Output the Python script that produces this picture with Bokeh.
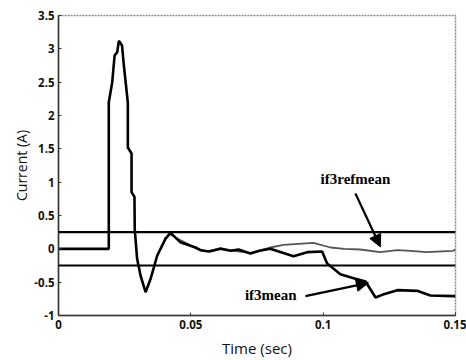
from bokeh.plotting import figure
from bokeh.models import FixedTicker, Range1d, Arrow, NormalHead, Label, Span
from bokeh.embed import file_html
from bokeh.resources import INLINE

# if3mean (thick black trace)
t_mean = [0, 0.019, 0.019, 0.0203, 0.0212, 0.0222, 0.0228, 0.024, 0.0247, 0.0262, 0.0262,
          0.0276, 0.0276, 0.0287, 0.0288, 0.0297, 0.031, 0.0329, 0.0348, 0.0373, 0.0404,
          0.0423, 0.046, 0.0518, 0.0536, 0.057, 0.0612, 0.065, 0.068, 0.0725, 0.076, 0.08,
          0.0888, 0.094, 0.0996, 0.1015, 0.1028, 0.1065, 0.1115, 0.116, 0.1179, 0.1198,
          0.1223, 0.128, 0.1355, 0.1405, 0.149, 0.15]
i_mean = [0, 0, 2.2, 2.5, 2.9, 2.95, 3.12, 3.05, 2.75, 2.19, 1.52,
          1.43, 0.85, 0.78, 0.3, -0.15, -0.4, -0.65, -0.45, -0.1, 0.15,
          0.24, 0.1, 0.02, -0.02, -0.04, 0.0, -0.03, -0.01, -0.07, -0.03, 0.0,
          -0.11, -0.05, -0.04, -0.22, -0.26, -0.38, -0.44, -0.49, -0.61, -0.73,
          -0.69, -0.62, -0.63, -0.70, -0.71, -0.71]

# if3refmean (thin grey trace)
t_ref = [0.04, 0.0423, 0.046, 0.05, 0.0518, 0.056, 0.0612, 0.066, 0.0725, 0.08, 0.085,
         0.0963, 0.1028, 0.108, 0.114, 0.1216, 0.128, 0.133, 0.139, 0.149, 0.15]
i_ref = [0.15, 0.22, 0.13, 0.05, 0.01, -0.04, 0.01, -0.03, -0.06, 0.02, 0.06,
         0.09, 0.02, 0.0, -0.01, -0.05, -0.02, -0.03, -0.05, -0.03, -0.01]

band_levels = [0.25, -0.25]

x_ticks = [0, 0.05, 0.1, 0.15]
x_labels = ["0", "0.05", "0.1", "0.15"]
y_ticks = [-1, -0.5, 0, 0.5, 1, 1.5, 2, 2.5, 3, 3.5]
y_labels = ["-1", "-0.5", "0", "0.5", "1", "1.5", "2", "2.5", "3", "3.5"]

p = figure(width=466, height=360, output_backend="svg", toolbar_location=None,
           x_range=Range1d(0, 0.15), y_range=Range1d(-1, 3.5),
           min_border_left=58, min_border_right=11, min_border_top=15, min_border_bottom=44)
p.background_fill_color = "white"
p.border_fill_color = "white"
p.outline_line_color = "#888888"
p.outline_line_dash = "2 1"
p.outline_line_width = 1.5
p.xgrid.visible = False
p.ygrid.visible = False

for lvl in band_levels:
    p.add_layout(Span(location=lvl, dimension="width", line_color="black", line_width=2.2))

p.line(t_ref, i_ref, line_color="#555555", line_width=1.8)
p.line(t_mean, i_mean, line_color="black", line_width=2.6)

# annotations
p.add_layout(Label(x=0.1122, y=0.93, text="if3refmean", text_font="Liberation Serif",
                   text_font_style="bold", text_font_size="15px", text_align="center",
                   text_baseline="bottom", text_color="black"))
p.add_layout(Arrow(end=NormalHead(size=12, fill_color="black", line_color="black"),
                   x_start=0.1122, y_start=0.83, x_end=0.1216, y_end=0.03,
                   line_color="black", line_width=2.2))
p.add_layout(Label(x=0.0802, y=-0.69, text="if3mean", text_font="Liberation Serif",
                   text_font_style="bold", text_font_size="15px", text_align="center",
                   text_baseline="middle", text_color="black"))
p.add_layout(Arrow(end=NormalHead(size=12, fill_color="black", line_color="black"),
                   x_start=0.0933, y_start=-0.71, x_end=0.1171, y_end=-0.51,
                   line_color="black", line_width=2.2))

for ax in (p.xaxis[0], p.yaxis[0]):
    ax.axis_line_color = "#333333"
    ax.axis_line_width = 1.5
    ax.major_tick_in = 3
    ax.major_tick_out = 0
    ax.minor_tick_line_color = None
    ax.major_tick_line_color = "#333333"
    ax.major_label_text_font = "Open Sans"
    ax.major_label_text_font_size = "11.5px"
    ax.major_label_text_font_style = "bold"
    ax.major_label_text_color = "#111111"
    ax.axis_label_text_font = "Open Sans"
    ax.axis_label_text_font_style = "normal"
    ax.axis_label_text_color = "#111111"
    ax.major_label_standoff = 4

p.xaxis.ticker = FixedTicker(ticks=x_ticks)
p.xaxis.major_label_overrides = dict(zip(x_ticks, x_labels))
p.yaxis.ticker = FixedTicker(ticks=y_ticks)
p.yaxis.major_label_overrides = dict(zip(y_ticks, y_labels))
p.xaxis.axis_label = "Time (sec)"
p.yaxis.axis_label = "Current (A)"
p.xaxis.axis_label_text_font_size = "15px"
p.yaxis.axis_label_text_font_size = "14px"
p.xaxis.axis_label_standoff = 6
p.yaxis.axis_label_standoff = 0

open("out.html", "w").write(file_html(p, INLINE))
